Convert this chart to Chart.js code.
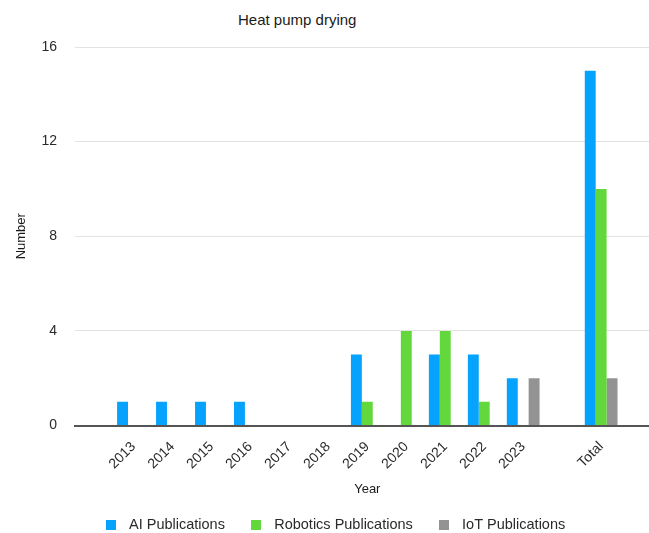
<!DOCTYPE html>
<html>
<head>
<meta charset="utf-8">
<script src="https://cdn.jsdelivr.net/npm/chart.js@4"></script>
<style>
    html, body { margin: 0; padding: 0; background: #fff; }
    #wrap { position: relative; width: 649px; height: 533px; overflow: hidden; }
    #chartTitle {
        position: absolute; left: 238px; top: 12px;
        font: 15px "Liberation Sans", Arial, sans-serif; line-height: 15px; color: #1a1a1a;
        white-space: nowrap;
    }
    #chartBox { position: absolute; left: 0; top: 0; width: 665px; height: 542px; }
</style>
</head>
<body>
<div id="wrap">
    <div id="chartTitle">Heat pump drying</div>
    <div id="chartBox"><canvas id="barChart"></canvas></div>
</div>
<script>
    // Categories (empty slots keep the gaps seen around the years and Total)
    const years = ['', '2013', '2014', '2015', '2016', '2017', '2018', '2019', '2020', '2021', '2022', '2023', '', 'Total', ''];

    // Series values
    const aiPublications = [null, 1, 1, 1, 1, 0, 0, 3, 0, 3, 3, 2, null, 15, null];
    const roboticsPublications = [null, 0, 0, 0, 0, 0, 0, 1, 4, 4, 1, 0, null, 10, null];
    const iotPublications = [null, 0, 0, 0, 0, 0, 0, 0, 0, 0, 0, 2, null, 2, null];

    // Y axis ticks
    const yTicks = [0, 4, 8, 12, 16];

    const fontFamily = '"Liberation Sans", Arial, sans-serif';
    const textColor = '#2a2a2a';

    // Small square images for the legend markers
    function legendSquare(color) {
        const c = document.createElement('canvas');
        c.width = 10;
        c.height = 10;
        const g = c.getContext('2d');
        g.fillStyle = color;
        g.fillRect(0, 0, 10, 10);
        return c;
    }

    const colors = ['#05a3fe', '#63d83c', '#939393'];

    const barData = {
        labels: years,
        datasets: [{
            label: 'AI Publications',
            data: aiPublications,
            backgroundColor: colors[0],
            pointStyle: legendSquare(colors[0])
        }, {
            label: 'Robotics Publications',
            data: roboticsPublications,
            backgroundColor: colors[1],
            pointStyle: legendSquare(colors[1])
        }, {
            label: 'IoT Publications',
            data: iotPublications,
            backgroundColor: colors[2],
            pointStyle: legendSquare(colors[2])
        }]
    };

    const barOptions = {
        responsive: true,
        maintainAspectRatio: false,
        animation: false,
        layout: {
            padding: { top: 47, left: 0, right: 0, bottom: 0 }
        },
        datasets: {
            bar: {
                barPercentage: 1,
                categoryPercentage: 0.84,
                borderWidth: 0
            }
        },
        plugins: {
            title: { display: false },
            tooltip: { enabled: false },
            legend: {
                position: 'bottom',
                labels: {
                    usePointStyle: true,
                    pointStyleWidth: 22,
                    padding: 20,
                    color: textColor,
                    font: { family: fontFamily, size: 14.5 }
                }
            }
        },
        scales: {
            x: {
                afterFit: function (scale) { scale.height = 72; },
                grid: { display: false, drawTicks: false },
                border: { display: true, color: '#555', width: 2 },
                ticks: {
                    autoSkip: false,
                    minRotation: 45,
                    maxRotation: 45,
                    padding: 13,
                    color: textColor,
                    font: { family: fontFamily, size: 14 }
                },
                title: {
                    display: true,
                    text: 'Year',
                    color: '#1a1a1a',
                    padding: { top: 0, bottom: 0 },
                    font: { family: fontFamily, size: 13 }
                }
            },
            y: {
                min: 0,
                max: 16,
                afterFit: function (scale) { scale.width = 75; },
                afterBuildTicks: function (scale) {
                    scale.ticks = yTicks.map(v => ({ value: v }));
                },
                grid: {
                    drawTicks: false,
                    color: ctx => ctx.tick && ctx.tick.value === 0 ? 'rgba(0,0,0,0)' : '#e2e2e2',
                    lineWidth: 1
                },
                border: { display: false },
                ticks: {
                    padding: 18,
                    color: textColor,
                    font: { family: fontFamily, size: 14 }
                },
                title: {
                    display: true,
                    text: 'Number',
                    color: '#1a1a1a',
                    padding: { top: 14, bottom: 0 },
                    font: { family: fontFamily, size: 13 }
                }
            }
        }
    };

    // Initialize bar chart
    const barCtx = document.getElementById('barChart').getContext('2d');
    const barChart = new Chart(barCtx, {
        type: 'bar',
        data: barData,
        options: barOptions
    });
</script>
</body>
</html>
